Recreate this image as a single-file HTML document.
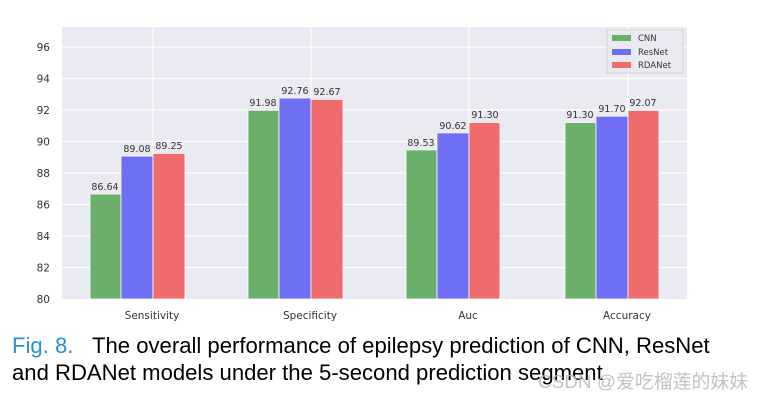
<!DOCTYPE html>
<html><head><meta charset="utf-8"><style>
body{margin:0;width:765px;height:400px;background:#fff;overflow:hidden;position:relative}
svg{position:absolute;left:0;top:0}
</style></head><body>
<svg width="765" height="400" xmlns="http://www.w3.org/2000/svg" font-family="'DejaVu Sans', sans-serif">
<rect x="62" y="27" width="625" height="272" fill="#eaeaf2"/>
<g stroke="#fff" stroke-width="1.2">
<line x1="62" x2="687" y1="267.5" y2="267.5"/><line x1="62" x2="687" y1="236" y2="236"/>
<line x1="62" x2="687" y1="204.5" y2="204.5"/><line x1="62" x2="687" y1="173" y2="173"/>
<line x1="62" x2="687" y1="141.5" y2="141.5"/><line x1="62" x2="687" y1="110" y2="110"/>
<line x1="62" x2="687" y1="78.5" y2="78.5"/><line x1="62" x2="687" y1="47" y2="47"/>
<line x1="153" x2="153" y1="27" y2="299"/><line x1="311" x2="311" y1="27" y2="299"/>
<line x1="469" x2="469" y1="27" y2="299"/><line x1="628" x2="628" y1="27" y2="299"/>
</g>
<g font-size="10.5" fill="#333" text-anchor="end">
<text x="50" y="303">80</text><text x="50" y="271.5">82</text><text x="50" y="240">84</text>
<text x="50" y="208.5">86</text><text x="50" y="177">88</text><text x="50" y="145.5">90</text>
<text x="50" y="114">92</text><text x="50" y="82.5">94</text><text x="50" y="51">96</text>
</g>
<g stroke="#fff" stroke-width="0.8">
<rect x="90" y="194.0" width="31" height="105" fill="#6aaf6a"/>
<rect x="121" y="156.1" width="32" height="142.9" fill="#6f6ff5"/>
<rect x="153" y="153.4" width="32" height="145.6" fill="#f06c6c"/>
<rect x="248" y="110.3" width="31" height="188.7" fill="#6aaf6a"/>
<rect x="279" y="98.0" width="32" height="201" fill="#6f6ff5"/>
<rect x="311" y="99.4" width="32" height="199.6" fill="#f06c6c"/>
<rect x="406" y="149.9" width="31" height="149.1" fill="#6aaf6a"/>
<rect x="437" y="132.9" width="32" height="166.1" fill="#6f6ff5"/>
<rect x="469" y="122.5" width="31" height="176.5" fill="#f06c6c"/>
<rect x="565" y="122.5" width="31" height="176.5" fill="#6aaf6a"/>
<rect x="596" y="116.2" width="32" height="182.8" fill="#6f6ff5"/>
<rect x="628" y="110.4" width="31" height="188.6" fill="#f06c6c"/>
</g>
<g font-size="9.5" fill="#333" text-anchor="middle">
<text x="105" y="190">86.64</text><text x="137" y="152">89.08</text><text x="169" y="149">89.25</text>
<text x="263" y="106">91.98</text><text x="295" y="94">92.76</text><text x="327" y="95">92.67</text>
<text x="421" y="146">89.53</text><text x="453" y="129">90.62</text><text x="485" y="118">91.30</text>
<text x="580" y="118">91.30</text><text x="612" y="112">91.70</text><text x="643" y="106">92.07</text>
</g>
<g font-size="10.5" fill="#333" text-anchor="middle">
<text x="152" y="319">Sensitivity</text><text x="310" y="319">Specificity</text>
<text x="468" y="319">Auc</text><text x="627" y="319">Accuracy</text>
</g>
<rect x="607" y="30" width="76" height="43" fill="#eaeaf2" stroke="#ccc" stroke-width="0.8"/>
<rect x="612" y="35" width="19" height="6" fill="#6aaf6a"/>
<rect x="612" y="49" width="19" height="6" fill="#6f6ff5"/>
<rect x="612" y="62" width="19" height="6" fill="#f06c6c"/>
<g font-size="8.5" fill="#333"><text x="638" y="41">CNN</text><text x="638" y="55">ResNet</text><text x="638" y="68">RDANet</text></g>
<g font-family="'Liberation Sans', sans-serif" font-size="22.1" fill="#000">
<text x="12" y="353"><tspan fill="#2a8fd8">Fig. 8.</tspan><tspan x="92">The overall performance of epilepsy prediction of CNN, ResNet</tspan></text>
<text x="12" y="380">and RDANet models under the 5-second prediction segment</text>
</g>
<text x="538" y="388" font-family="'Liberation Sans','Noto Sans CJK SC',sans-serif" font-size="18.9" fill="#bbb" fill-opacity="0.9">CSDN @爱吃榴莲的妹妹</text>
</svg>
</body></html>
